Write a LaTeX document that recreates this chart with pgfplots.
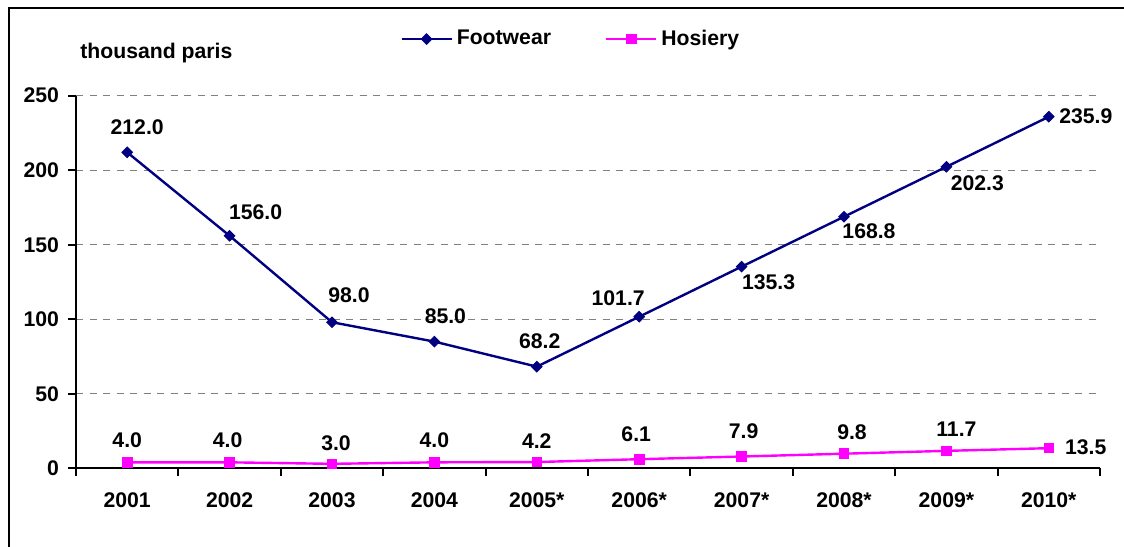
\documentclass[border=0pt]{standalone}
\usepackage{fontspec}
\setmainfont{Liberation Sans}
\usepackage{pgfplots}
\usepackage{pgfplotstable}
\pgfplotsset{compat=1.18}
\definecolor{navyline}{HTML}{000080}
\definecolor{magline}{HTML}{FF00FF}
\definecolor{gridgray}{HTML}{808080}
\pgfplotstableread{
x y dx dy
0 212.0 5 12.5
1 156.0 13 12
2 98.0 8.5 13.5
3 85.0 5.5 12.5
4 68.2 1.5 12.5
5 101.7 -10.5 9.5
6 135.3 13.5 -8
7 168.8 12.5 -7
8 202.3 15.5 -8
9 235.9 18.5 0
}\foot
\pgfplotstableread{
x y dx dy
0 4.0 0 11
1 4.0 -1 11
2 3.0 2 10.5
3 4.0 0 11
4 4.2 0 10.5
5 6.1 -1.5 12.5
6 7.9 1 12.5
7 9.8 4 10.5
8 11.7 5 11
9 13.5 18.5 0.5
}\hos
\newcommand{\lbl}{\fontsize{10.6}{12}\selectfont\bfseries}
\begin{document}
\begin{tikzpicture}[font=\lbl]
\useasboundingbox (0,0) rectangle (562pt,273pt);
\draw[line width=1pt] (4.5pt,-2pt) -- (4.5pt,269pt) -- (565pt,269pt);
\node[anchor=west, inner sep=0pt] at (40pt,246.5pt) {thousand paris};
\begin{axis}[
  scale only axis, width=512pt, height=186.3pt,
  at={(38pt,38.85pt)}, anchor=south west,
  xmin=-0.5, xmax=9.5, ymin=0, ymax=250,
  axis x line*=bottom, axis y line*=left,
  axis line style={line width=1pt, -},
  xtick={0,...,9},
  xticklabels={2001,2002,2003,2004,2005*,2006*,2007*,2008*,2009*,2010*},
  major x tick style={draw=none},
  minor xtick={-0.5,0.5,...,9.5},
  ytick={0,50,...,250},
  tick align=outside, major tick length=4pt, minor tick length=4pt,
  tick style={line width=1pt, black},
  ymajorgrids,
  grid style={gridgray, line width=0.5pt, dash pattern=on 3.5pt off 3.25pt},
  tick label style={font=\lbl},
  xticklabel style={yshift=-4.5pt},
  yticklabel style={xshift=-1pt},
  /pgf/number format/assume math mode=true,
  legend columns=2,
  legend style={draw=none, fill=none, at={(0.3164,1.152)}, anchor=west, inner sep=0pt,
    font=\lbl,
    /tikz/every even column/.append style={column sep=25pt}},
  legend image code/.code={\draw[mark repeat=2,mark phase=2,#1] plot coordinates {(0pt,0pt) (12.5pt,0pt) (25pt,0pt)};},
  point meta=y,
  nodes near coords={\pgfmathprintnumber[fixed,fixed zerofill,precision=1]{\pgfplotspointmeta}},
  visualization depends on={\thisrow{dx}\as\dx},
  visualization depends on={\thisrow{dy}\as\dy},
  every node near coord/.append style={anchor=center, xshift=\dx pt, yshift=\dy pt, black, font=\lbl, inner sep=0pt},
  clip=false,
]
\addplot[navyline, line width=1.2pt, mark=square*, mark size=1.85pt, mark options={solid, rotate=45, line width=0.5pt, fill=navyline}] table[x=x,y=y] {\foot};
\addlegendentry{Footwear}
\addplot[magline, line width=1.2pt, mark=square*, mark size=2.4pt, mark options={solid, line width=0.5pt, fill=magline}] table[x=x,y=y] {\hos};
\addlegendentry{Hosiery}
\end{axis}
\end{tikzpicture}
\end{document}
